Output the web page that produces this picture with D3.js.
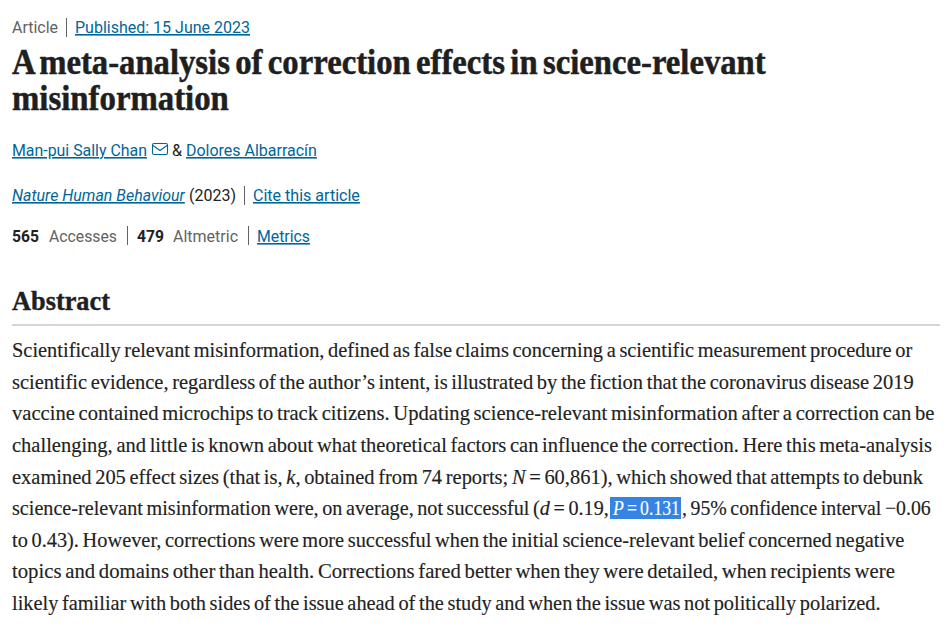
<!DOCTYPE html>
<html>
<head>
<meta charset="utf-8">
<title>A meta-analysis of correction effects in science-relevant misinformation</title>
<script src="https://cdnjs.cloudflare.com/ajax/libs/d3/7.8.5/d3.min.js"></script>
<style>
  html, body { margin: 0; padding: 0; background: #fff; }
  svg { display: block; }
  text { white-space: pre; }
</style>
</head>
<body>
<svg width="952" height="636"></svg>
<script>
// page text
const titleLines = [
  "A meta-analysis of correction effects in science-relevant",
  "misinformation"
]
const headingText = "Abstract"

// *x* = italic, [x] = selected text
const abstractLines = [
  "Scientifically relevant misinformation, defined as false claims concerning a scientific measurement procedure or",
  "scientific evidence, regardless of the author’s intent, is illustrated by the fiction that the coronavirus disease 2019",
  "vaccine contained microchips to track citizens. Updating science-relevant misinformation after a correction can be",
  "challenging, and little is known about what theoretical factors can influence the correction. Here this meta-analysis",
  "examined 205 effect sizes (that is, *k*, obtained from 74 reports; *N* = 60,861), which showed that attempts to debunk",
  "science-relevant misinformation were, on average, not successful (*d* = 0.19,[*P* = 0.131], 95% confidence interval −0.06",
  "to 0.43). However, corrections were more successful when the initial science-relevant belief concerned negative",
  "topics and domains other than health. Corrections fared better when they were detailed, when recipients were",
  "likely familiar with both sides of the issue ahead of the study and when the issue was not politically polarized."
]

const metaLabels = ["Article", "(2023)", "Accesses", "Altmetric"]
const metaLinks = ["Published: 15 June 2023", "Cite this article", "Metrics"]
const authors = ["Man-pui Sally Chan", "Dolores Albarracín"]
const journal = "Nature Human Behaviour"
const metricValues = ["565", "479"]

const svg = d3.select("svg")
const serif = "'Liberation Serif', serif"
const sans = "Roboto, sans-serif"
const ink = "#222222", grey = "#626262", link = "#006699", selection = "#3584e4"

svg.append("rect").attr("width", 952).attr("height", 636).attr("fill", "#fff")

function fit(g, t, x0, x1, y) {
  const w = t.node().getComputedTextLength()
  g.attr("transform", "translate(" + x0 + "," + y + ") scale(" + (x1 - x0) / w + ",1)")
}

// draws a text run and squeezes it to the x range it has in the page
function run(str, x0, x1, y, opts) {
  const g = svg.append("g")
  const t = g.append("text")
    .attr("font-family", opts.family || sans)
    .attr("font-size", opts.size || 16)
    .attr("font-weight", opts.weight || 400)
    .attr("font-style", opts.italic ? "italic" : "normal")
    .attr("fill", opts.color || ink)
    .attr("word-spacing", opts.wordSpacing || 0)
    .style("text-decoration", opts.underline ? "underline" : "none")
    .text(str)
  if (opts.stroke) t.attr("stroke", opts.color || ink).attr("stroke-width", opts.stroke)
  fit(g, t, x0, x1, y)
  return g
}

function separator(x, y0, y1) {
  svg.append("line")
    .attr("x1", x).attr("x2", x).attr("y1", y0).attr("y2", y1)
    .attr("stroke", "#626262").attr("stroke-width", 1)
}

// top rows
run(metaLabels[0], 12, 58, 33, {color: grey})
separator(66.5, 18, 37)
run(metaLinks[0], 75, 250, 33, {color: link, underline: true})

// title
const titleY = d3.scalePoint().domain(d3.range(titleLines.length)).range([74, 110])
const titleEnds = [766, 229]
titleLines.forEach((d, i) => {
  run(d, 12, titleEnds[i], titleY(i), {family: serif, size: 35, weight: 700, color: "#1f1f1f", stroke: 0.5, wordSpacing: -3})
})

// authors
run(authors[0], 12, 147, 156, {color: link, underline: true})
const mail = svg.append("g").attr("fill", "none").attr("stroke", link).attr("stroke-width", 1.1)
mail.append("rect").attr("x", 152.5).attr("y", 143.5).attr("width", 15).attr("height", 11).attr("rx", 1.5)
mail.append("path").attr("d", "M153 145.5 L160 150.5 L167 145.5")
run("&", 172, 182, 156, {})
run(authors[1], 186, 317, 156, {color: link, underline: true})

// journal row
run(journal, 12, 185, 201, {color: link, italic: true, underline: true})
run(metaLabels[1], 189, 236, 201, {})
separator(244.5, 186, 205)
run(metaLinks[1], 253, 360, 201, {color: link, underline: true})

// metrics row
run(metricValues[0], 12, 39, 242, {weight: 700})
run(metaLabels[2], 49, 117, 242, {color: grey})
separator(127.5, 226, 245)
run(metricValues[1], 137, 164, 242, {weight: 700})
run(metaLabels[3], 173, 238, 242, {color: grey})
separator(248.5, 226, 245)
run(metaLinks[2], 257, 310, 242, {color: link, underline: true})

// abstract heading + rule
run(headingText, 12, 110, 310, {family: serif, size: 27, weight: 700, color: "#1f1f1f", stroke: 0.4})
svg.append("rect").attr("x", 12).attr("y", 324).attr("width", 928).attr("height", 2).attr("fill", "#d5d5d5")

// abstract body
const lineY = d3.scalePoint().domain(d3.range(abstractLines.length)).range([357, 610])
const lineEnds = [913, 914, 935, 932, 924, 931, 905, 895, 881]
const selectionBox = {x0: 610, x1: 681, textX0: 613, textX1: 680, top: 497, bottom: 519}

function parseRuns(str) {
  const out = []
  const re = /\[|\]|\*/g
  let last = 0, italic = false, selected = false, m
  while ((m = re.exec(str))) {
    if (m.index > last) out.push({text: str.slice(last, m.index), italic, selected})
    if (m[0] === "*") italic = !italic
    else selected = m[0] === "["
    last = m.index + 1
  }
  if (last < str.length) out.push({text: str.slice(last), italic, selected})
  return out
}

function bodyText(runs, x0, x1, y, color) {
  const g = svg.append("g")
  const t = g.append("text")
    .attr("font-family", serif)
    .attr("font-size", 21)
    .attr("word-spacing", -1.5)
    .attr("stroke", color)
    .attr("stroke-width", 0.15)
    .attr("fill", color)
  t.selectAll("tspan").data(runs).join("tspan")
    .attr("font-style", d => d.italic ? "italic" : "normal")
    .text(d => d.text)
  fit(g, t, x0, x1, y)
}

abstractLines.forEach((line, i) => {
  const runs = parseRuns(line)
  const y = lineY(i)
  const sel = runs.filter(d => d.selected)
  if (!sel.length) {
    bodyText(runs, 12, lineEnds[i], y, ink)
    return
  }
  // line with the selection is laid out in three pieces around the highlight
  const first = runs.indexOf(sel[0])
  const after = first + sel.length
  svg.append("rect")
    .attr("x", selectionBox.x0).attr("width", selectionBox.x1 - selectionBox.x0)
    .attr("y", selectionBox.top).attr("height", selectionBox.bottom - selectionBox.top)
    .attr("fill", selection)
  bodyText(runs.slice(0, first), 12, selectionBox.x0 - 1, y, ink)
  bodyText(sel, selectionBox.textX0, selectionBox.textX1, y, "#fff")
  bodyText(runs.slice(after), selectionBox.x1 + 1, lineEnds[i], y, ink)
})
</script>
</body>
</html>
